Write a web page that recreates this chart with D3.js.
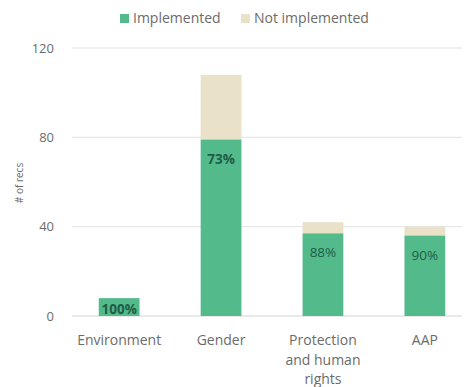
<!DOCTYPE html>
<html>
<head>
<meta charset="utf-8">
<script src="https://cdn.jsdelivr.net/npm/d3@7"></script>
<style>
  html, body { margin: 0; padding: 0; background: #fff; }
  svg { display: block; font-family: "Open Sans", sans-serif; }
</style>
</head>
<body>
<svg id="chart" width="468" height="387"></svg>
<script>
// Recommendations by theme: implemented vs not implemented
const categories = ["Environment", "Gender", "Protection and human rights", "AAP"];
const categoryLines = [["Environment"], ["Gender"], ["Protection", "and human", "rights"], ["AAP"]];
const implemented = [8, 79, 37, 36];
const notImplemented = [0, 29, 5, 4];
const pctLabels = ["100%", "73%", "88%", "90%"];
const yTicks = [0, 40, 80, 120];
const seriesNames = ["Implemented", "Not implemented"];

const colors = { impl: "#53ba8c", notImpl: "#e9e2c8", label: "#1f5e44", text: "#6b6b6b", grid: "#e2e2e2" };

const svg = d3.select("#chart");

const y = d3.scaleLinear().domain([0, 120]).range([316, 48]);
const x = d3.scaleBand().domain(categories).range([58, 486]).paddingInner(0.6).paddingOuter(0.4);

// Gridlines
svg.append("g").selectAll("line").data(yTicks).join("line")
  .attr("x1", 72).attr("x2", 462)
  .attr("y1", d => y(d)).attr("y2", d => y(d))
  .attr("stroke", (d) => d === 0 ? "#d4d4d4" : colors.grid)
  .attr("stroke-width", 1);

// Y axis tick labels
const yAxis = d3.axisLeft(y).tickValues(yTicks).tickSize(0).tickPadding(0);
svg.append("g").attr("transform", "translate(54,0)").call(yAxis)
  .call(g => g.select(".domain").remove())
  .selectAll("text")
  .attr("fill", colors.text).attr("font-size", 13)
  .attr("font-family", "'Open Sans', sans-serif");

// Y axis title
svg.append("text")
  .attr("transform", "translate(23,183) rotate(-90)")
  .attr("text-anchor", "middle")
  .attr("fill", colors.text).attr("font-size", 10)
  .text("# of recs");

const data = categories.map((c, i) => ({ c, impl: implemented[i], notImpl: notImplemented[i], pct: pctLabels[i] }));

// Not-implemented segments stacked on top
svg.append("g").selectAll("rect").data(data.filter(d => d.notImpl > 0)).join("rect")
  .attr("x", d => x(d.c)).attr("width", x.bandwidth())
  .attr("y", d => y(d.impl + d.notImpl))
  .attr("height", d => y(d.impl) - y(d.impl + d.notImpl))
  .attr("fill", colors.notImpl);

// Implemented segments
svg.append("g").selectAll("rect").data(data).join("rect")
  .attr("x", d => x(d.c)).attr("width", x.bandwidth())
  .attr("y", d => y(d.impl))
  .attr("height", d => y(0) - y(d.impl))
  .attr("fill", colors.impl);

// Percentage labels inside the implemented segments
svg.append("g").selectAll("text").data(data).join("text")
  .attr("x", d => x(d.c) + x.bandwidth() / 2)
  .attr("y", d => d.impl < 15 ? y(0) - 2 : y(d.impl) + 24)
  .attr("text-anchor", "middle")
  .attr("fill", colors.label)
  .attr("font-size", 13.5)
  .attr("font-weight", (d, i) => i < 2 ? 700 : 400)
  .text(d => d.pct);

// Category labels
const xl = svg.append("g").selectAll("text").data(categories).join("text")
  .attr("x", d => x(d) + x.bandwidth() / 2)
  .attr("y", 345)
  .attr("text-anchor", "middle")
  .attr("fill", colors.text).attr("font-size", 14);
xl.selectAll("tspan").data((d, i) => categoryLines[i]).join("tspan")
  .attr("x", function () { return d3.select(this.parentNode).attr("x"); })
  .attr("dy", (d, i) => i === 0 ? 0 : 19.5)
  .text(d => d);

// Legend
const legend = svg.append("g");
const legendItems = [
  { name: seriesNames[0], color: colors.impl, x: 120 },
  { name: seriesNames[1], color: colors.notImpl, x: 241 }
];
legendItems.forEach(it => {
  legend.append("rect").attr("x", it.x).attr("y", 14).attr("width", 9).attr("height", 9).attr("fill", it.color);
  legend.append("text").attr("x", it.x + 13).attr("y", 23)
    .attr("fill", colors.text).attr("font-size", 14).text(it.name);
});
</script>
</body>
</html>
